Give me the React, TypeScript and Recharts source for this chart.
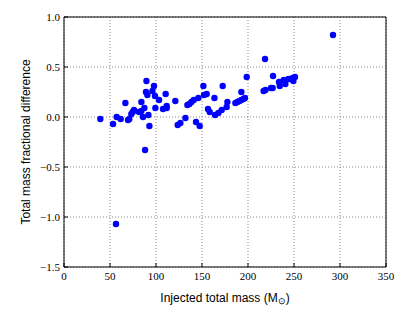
import {
  ScatterChart,
  Scatter,
  XAxis,
  YAxis,
  CartesianGrid,
  Label,
} from 'recharts';

const injectedMass = [
  39.5, 53.3, 57.3, 61.6, 66.7, 69.6, 71, 73.2, 74.7, 76.1,
  81.5, 84.1, 84.1, 85.9, 87.4, 89.6, 89.1, 90.6, 91.7, 92.8,
  96.1, 97.8, 98.9, 99.3, 103.3, 107.6, 110.5, 111.6, 111.6, 121,
  123.6, 126.5, 132, 134.1, 136.3, 138.5, 141, 143.5, 146, 147.5,
  151.5, 152.2, 155.1, 156.5, 158.4, 163.5, 164.2, 167.8, 171.4, 172.5,
  176.8, 177.6, 186.3, 188.5, 190.7, 192.8, 195, 196.7, 192.8, 198.6,
  218.5, 217, 219, 225, 226.8, 227.2, 233.7, 234.5, 238.8, 240.6,
  243.9, 246.4, 248.6, 249.3, 251.1, 292.4, 88.1, 56.5,
];

const fracDiff = [
  -0.02, -0.07, 0.0, -0.02, 0.14, -0.03, -0.02, 0.03, 0.05, 0.07,
  0.05, 0.06, 0.15, 0.0, 0.09, 0.36, 0.25, 0.22, 0.02, -0.09,
  0.26, 0.31, 0.21, 0.09, 0.17, 0.08, 0.23, 0.11, 0.09, 0.16,
  -0.08, -0.06, -0.01, 0.12, 0.13, 0.15, 0.17, -0.05, 0.19, -0.09,
  0.31, 0.22, 0.23, 0.08, 0.05, 0.19, 0.02, 0.04, 0.07, 0.31,
  0.1, 0.15, 0.14, 0.15, 0.16, 0.17, 0.18, 0.19, 0.25, 0.4,
  0.58, 0.26, 0.27, 0.29, 0.29, 0.41, 0.35, 0.31, 0.37, 0.33,
  0.38, 0.38, 0.39, 0.36, 0.4, 0.82, -0.33, -1.07,
];

const xTicks = [0, 50, 100, 150, 200, 250, 300, 350];
const yTicks = [-1.5, -1.0, -0.5, 0.0, 0.5, 1.0];

const points = injectedMass.map((m, i) => ({ x: m, y: fracDiff[i] }));

const serif = '"Liberation Serif", "DejaVu Serif", serif';
const sans = '"Liberation Sans", Arial, sans-serif';

const fmtY = (v: number) => (v < 0 ? '\u2212' + Math.abs(v).toFixed(1) : v.toFixed(1));

const Dot = (props: any) => {
  const { cx, cy } = props;
  return <circle cx={cx} cy={cy} r={3.2} fill="#0000ff" stroke="none" />;
};

export default function App() {
  return (
    <div style={{ position: 'absolute', left: 0, top: 0, background: '#fff' }}>
      <ScatterChart width={415} height={312} margin={{ top: 16, right: 28, left: 0, bottom: 0 }}>
        <CartesianGrid
          xAxisId="b"
          yAxisId="l"
          stroke="#888"
          strokeDasharray="1 2"
          horizontalValues={yTicks}
          verticalValues={xTicks}
        />
        <XAxis
          xAxisId="b"
          dataKey="x"
          type="number"
          domain={[0, 350]}
          ticks={xTicks}
          height={45}
          stroke="#000"
          tickSize={-4}
          tickMargin={9}
          tick={{ fill: '#000', fontSize: 11, fontFamily: serif }}
        >
          <Label
            content={({ viewBox }: any) => (
              <text
                x={viewBox.x + viewBox.width / 2}
                y={viewBox.y + 35}
                textAnchor="middle"
                fontFamily={sans}
                fontSize={12}
                fill="#000"
              >
                Injected total mass (M<tspan fontSize={9} dy={2}>{'\u2299'}</tspan><tspan dy={-2}>)</tspan>
              </text>
            )}
          />
        </XAxis>
        <XAxis
          xAxisId="t"
          orientation="top"
          type="number"
          domain={[0, 350]}
          ticks={xTicks}
          height={1}
          stroke="#000"
          tickSize={-4}
          tick={false}
        />
        <YAxis
          yAxisId="l"
          dataKey="y"
          type="number"
          domain={[-1.5, 1.0]}
          ticks={yTicks}
          width={64}
          stroke="#000"
          tickSize={-4}
          tickMargin={8}
          tickFormatter={fmtY}
          tick={{ fill: '#000', fontSize: 11, fontFamily: serif }}
        >
          <Label
            content={({ viewBox }: any) => (
              <text
                x={27}
                y={viewBox.y + viewBox.height / 2}
                transform={`rotate(-90 27 ${viewBox.y + viewBox.height / 2})`}
                textAnchor="middle"
                dominantBaseline="middle"
                fontFamily={sans}
                fontSize={12}
                fill="#000"
              >
                Total mass fractional difference
              </text>
            )}
          />
        </YAxis>
        <YAxis
          yAxisId="r"
          orientation="right"
          type="number"
          domain={[-1.5, 1.0]}
          ticks={yTicks}
          width={1}
          stroke="#000"
          tickSize={-4}
          tick={false}
        />
        <Scatter
          xAxisId="b"
          yAxisId="l"
          data={points}
          shape={Dot}
          isAnimationActive={false}
        />
      </ScatterChart>
    </div>
  );
}
